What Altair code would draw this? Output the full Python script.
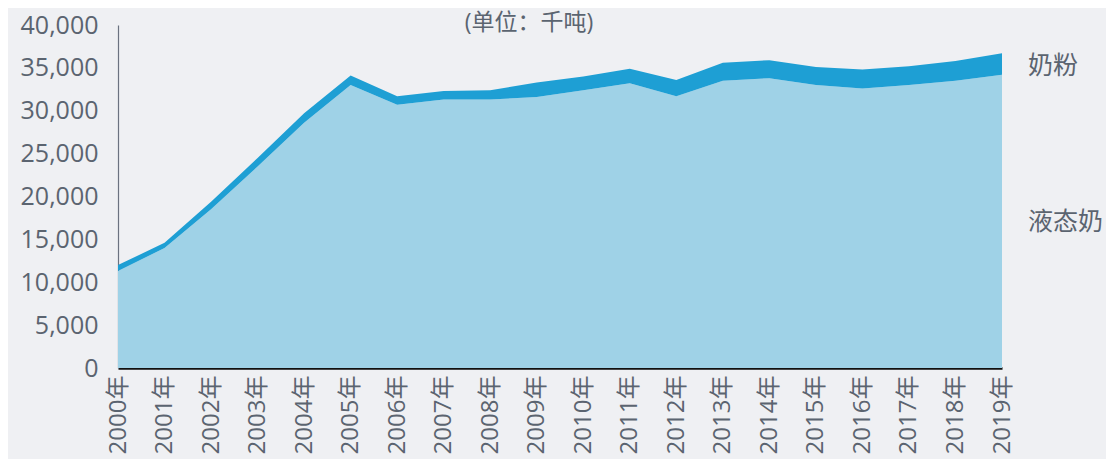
import altair as alt
import pandas as pd

years = [f"{y}年" for y in range(2000, 2020)]
liquid = [11300, 14000, 18500, 23500, 28600, 33000, 30700, 31300, 31300, 31600,
          32400, 33200, 31700, 33500, 33800, 33000, 32600, 33000, 33500, 34200]
powder = [700, 600, 900, 1000, 1100, 1100, 1000, 1000, 1100, 1700,
          1600, 1700, 1900, 2100, 2100, 2100, 2200, 2200, 2300, 2500]
y_ticks = [0, 5000, 10000, 15000, 20000, 25000, 30000, 35000, 40000]
unit_title = "(单位：千吨)"
series_labels = ["奶粉", "液态奶"]
series_label_y = [35200, 17000]

FONT = "Open Sans, Noto Sans CJK SC"
GREY = "#5b6470"

df = pd.DataFrame({"year": years, "liquid": liquid, "powder": powder})

x_enc = alt.X(
    "year:O",
    sort=years,
    scale=alt.Scale(type="point", padding=0),
    axis=alt.Axis(
        title=None, labelAngle=-90, ticks=False, labelPadding=7,
        labelFontSize=24, labelColor=GREY, labelFont=FONT,
        domainColor="#111111", domainWidth=2.5,
    ),
)
y_scale = alt.Scale(domain=[0, 40000], nice=False)

base = alt.Chart(df).transform_calculate(total="datum.liquid + datum.powder")

powder_area = base.mark_area(color="#1e9fd4", opacity=1).encode(
    x=x_enc,
    y=alt.Y(
        "total:Q", scale=y_scale,
        axis=alt.Axis(
            title=None, values=y_ticks, format=",.0f", grid=False, ticks=False,
            labelPadding=20, labelFontSize=25, labelColor=GREY, labelFont=FONT,
            domainColor="#6b7280", domainWidth=1.2,
        ),
    ),
    y2="liquid:Q",
)

liquid_area = base.mark_area(color="#9fd2e7", opacity=1).encode(
    x=alt.X("year:O", sort=years),
    y=alt.Y("liquid:Q", scale=y_scale),
)

lab_df = pd.DataFrame({"label": series_labels, "v": series_label_y,
                       "year": [years[-1]] * 2})
labels = alt.Chart(lab_df).mark_text(
    align="left", baseline="middle", dx=26, fontSize=25, font=FONT, color=GREY
).encode(
    x=alt.X("year:O", sort=years),
    y=alt.Y("v:Q", scale=y_scale),
    text="label:N",
)

title = alt.Chart(pd.DataFrame({"t": [unit_title]})).mark_text(
    align="center", baseline="middle", fontSize=23, font=FONT, color=GREY
).encode(text="t:N", x=alt.value(411), y=alt.value(-2))

chart = alt.layer(liquid_area, powder_area, labels, title).properties(
    width=884, height=343,
    background="#eff0f3",
    padding={"left": 110, "top": 17, "right": 104, "bottom": 91},
    autosize=alt.AutoSizeParams(type="none"),
).configure_view(stroke=None).configure_axis(labelOverlap=False)

chart.save("out.html", embed_options={"renderer": "svg", "actions": False})
